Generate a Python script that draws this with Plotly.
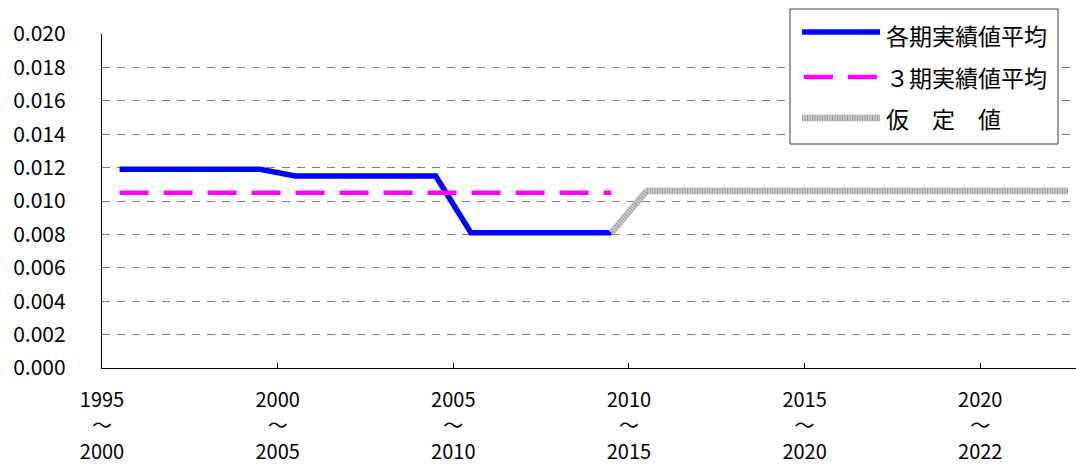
import plotly.graph_objects as go

years = list(range(1995, 2023))  # one category per year, 1995 .. 2022
each_period_avg = [0.0119] * 5 + [0.0115] * 5 + [0.0081] * 5
three_period_avg = [0.0105] * 15
assumed_years = list(range(2009, 2023))
assumed_values = [0.0081] + [0.0106] * 13

tick_years = [1995, 2000, 2005, 2010, 2015, 2020]
tick_labels = ["1995<br>～<br>2000", "2000<br>～<br>2005", "2005<br>～<br>2010",
               "2010<br>～<br>2015", "2015<br>～<br>2020", "2020<br>～<br>2022"]
y_ticks = [0.000, 0.002, 0.004, 0.006, 0.008, 0.010, 0.012, 0.014, 0.016, 0.018, 0.020]

names = ["各期実績値平均", "３期実績値平均", "仮　定　値"]

FONT = "Noto Sans CJK JP"
W, H = 1076, 468
ML, MR, MT, MB = 102, 0, 34, 100
PW, PH = W - ML - MR, H - MT - MB


def px_x(px):
    return (px - ML) / PW


def px_y(py):
    return (H - MB - py) / PH


def mid(ys):
    return [y + 0.5 for y in ys]


BLUE = dict(color="#0000FF", width=5.5)
MAGENTA = dict(color="#FF00FF", width=4.5, dash="29px,15px")
GRAY_BASE = dict(color="#CFCFCF", width=6.5)
GRAY_STRIPE = dict(color="#9A9A9A", width=6.5, dash="1px,1.5px")

fig = go.Figure()
fig.add_trace(go.Scatter(
    x=mid(years[:len(each_period_avg)]), y=each_period_avg, mode="lines",
    name=names[0], line=BLUE,
))
fig.add_trace(go.Scatter(
    x=mid(years[:len(three_period_avg)]), y=three_period_avg, mode="lines",
    name=names[1], line=MAGENTA,
))
fig.add_trace(go.Scatter(
    x=mid(assumed_years), y=assumed_values, mode="lines",
    name=names[2], line=GRAY_BASE,
))
fig.add_trace(go.Scatter(
    x=mid(assumed_years), y=assumed_values, mode="lines",
    name=names[2], line=GRAY_STRIPE,
))

# legend box (drawn as layout shapes + text annotations)
shapes = [dict(type="rect", xref="paper", yref="paper",
               x0=px_x(790), x1=px_x(1058), y0=px_y(144), y1=px_y(9),
               fillcolor="white", line=dict(color="#404040", width=1), layer="above")]
rows_y = [32, 77, 118]
samples = [(BLUE, 802, 880), (MAGENTA, 804, 877), (GRAY_BASE, 802, 880), (GRAY_STRIPE, 802, 880)]
sample_rows = [0, 1, 2, 2]
for (ln, xa, xb), r in zip(samples, sample_rows):
    d = dict(color=ln["color"], width=ln["width"])
    if "dash" in ln:
        d["dash"] = ln["dash"]
    shapes.append(dict(type="line", xref="paper", yref="paper",
                       x0=px_x(xa), x1=px_x(xb), y0=px_y(rows_y[r]), y1=px_y(rows_y[r]),
                       line=d, layer="above"))
annotations = []
for name, ry in zip(names, [35, 77, 118]):
    annotations.append(dict(xref="paper", yref="paper", x=px_x(884), y=px_y(ry),
                            xanchor="left", yanchor="middle", showarrow=False,
                            text=name, font=dict(family=FONT, size=23, color="#000000")))

fig.update_layout(
    width=W, height=H,
    margin=dict(l=ML, r=MR, t=MT, b=MB),
    paper_bgcolor="white", plot_bgcolor="white",
    font=dict(family=FONT, size=20, color="#000000"),
    showlegend=False,
    shapes=shapes, annotations=annotations,
    xaxis=dict(
        range=[1995, 1995 + PW / 35.13],
        tickmode="array", tickvals=tick_years, ticktext=tick_labels,
        ticks="inside", ticklen=5, tickcolor="#000000",
        showline=True, linecolor="#000000", linewidth=1.3,
        showgrid=False, zeroline=False,
        tickfont=dict(family=FONT, size=20),
        ticklabelstandoff=14,
        automargin=False,
    ),
    yaxis=dict(
        range=[0, 0.020],
        tickmode="array", tickvals=y_ticks,
        tickformat=".3f",
        ticks="", showline=True, linecolor="#000000", linewidth=1.3,
        showgrid=True, gridcolor="#808080", gridwidth=1.3, griddash="8px,7px",
        zeroline=False,
        tickfont=dict(family=FONT, size=21),
        ticklabelstandoff=31,
        automargin=False,
    ),
)

fig.write_html("out.html", config={"displayModeBar": False},
               post_script="document.body.style.margin='0';document.body.style.overflow='hidden';")
